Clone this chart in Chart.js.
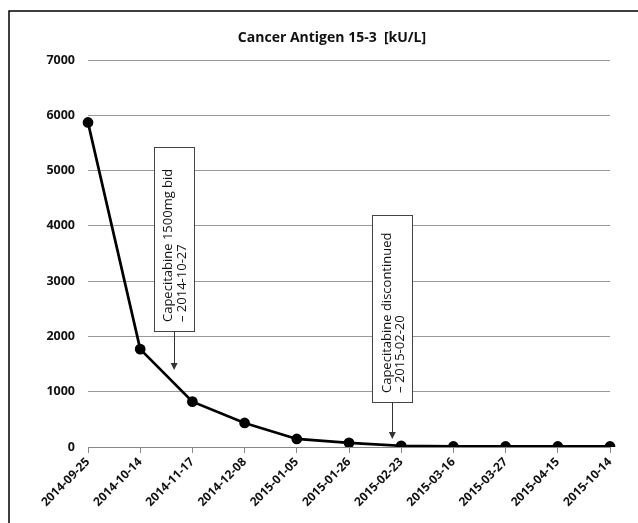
<!DOCTYPE html>
<html>
<head>
<meta charset="utf-8">
<script src="https://cdn.jsdelivr.net/npm/chart.js@4.4.1/dist/chart.umd.min.js"></script>
<style>
html,body{margin:0;padding:0;background:#fff;}
#wrap{position:relative;width:638px;height:523px;}
</style>
</head>
<body>
<div id="wrap"><canvas id="c" width="638" height="523"></canvas></div>
<script>
const titleText = 'Cancer Antigen 15-3  [kU/L]';
const dates = ['2014-09-25','2014-10-14','2014-11-17','2014-12-08','2015-01-05','2015-01-26','2015-02-23','2015-03-16','2015-03-27','2015-04-15','2015-10-14'];
const ca153 = [5870, 1770, 820, 435, 145, 75, 22, 10, 10, 10, 10];
const yTicks = [0, 1000, 2000, 3000, 4000, 5000, 6000, 7000];

// annotations (category-index position, box top/bottom and arrow tip in data units)
const noteLines = [['Capecitabine 1500mg bid', '\u2013 2014-10-27'], ['Capecitabine discontinued', '\u2013 2015-02-20']];
const noteIndex = [1.65, 5.83];
const noteBoxTop = [5425, 4195];
const noteBoxBottom = [2098, 814];
const noteArrowTip = [1392, 145];

const FONT = "'Open Sans', 'Liberation Sans', sans-serif";

const framePlugin = {
  id: 'frame',
  beforeDraw(chart) {
    const ctx = chart.ctx;
    ctx.save();
    ctx.fillStyle = '#fff';
    ctx.fillRect(0, 0, chart.width, chart.height);
    ctx.strokeStyle = '#000';
    ctx.lineWidth = 1.5;
    ctx.beginPath();
    ctx.moveTo(9, 523);
    ctx.lineTo(9, 11);
    ctx.lineTo(638, 11);
    ctx.stroke();
    // title
    ctx.fillStyle = '#111';
    ctx.font = "bold 14px " + FONT;
    ctx.textAlign = 'center';
    ctx.textBaseline = 'middle';
    ctx.fillText(titleText, 332, 38);
    ctx.restore();
  }
};

const notePlugin = {
  id: 'notes',
  beforeDatasetsDraw(chart) {
    const ctx = chart.ctx;
    const xs = chart.scales.x, ys = chart.scales.y;
    const idxPx = v => {
      const i = Math.floor(v), f = v - i;
      const a = xs.getPixelForValue(i), b = xs.getPixelForValue(Math.min(i + 1, dates.length - 1));
      return a + (b - a) * f;
    };
    ctx.save();
    for (let k = 0; k < noteLines.length; k++) {
      const cx = idxPx(noteIndex[k]);
      const top = ys.getPixelForValue(noteBoxTop[k]);
      const bot = ys.getPixelForValue(noteBoxBottom[k]);
      const tip = ys.getPixelForValue(noteArrowTip[k]);
      const w = 40;
      ctx.fillStyle = '#fff';
      ctx.fillRect(cx - w / 2, top, w, bot - top);
      ctx.strokeStyle = '#444';
      ctx.lineWidth = 1;
      ctx.strokeRect(Math.round(cx - w / 2) + 0.5, Math.round(top) + 0.5, w, Math.round(bot - top));
      // arrow
      ctx.strokeStyle = '#333';
      ctx.beginPath();
      ctx.moveTo(Math.round(cx) + 0.5, bot);
      ctx.lineTo(Math.round(cx) + 0.5, tip - 5);
      ctx.stroke();
      ctx.fillStyle = '#333';
      ctx.beginPath();
      ctx.moveTo(cx - 3.5, tip - 7);
      ctx.lineTo(cx + 3.5, tip - 7);
      ctx.lineTo(cx, tip);
      ctx.closePath();
      ctx.fill();
      // text
      ctx.save();
      ctx.translate(cx, bot - 9);
      ctx.rotate(-Math.PI / 2);
      ctx.fillStyle = '#111';
      ctx.font = "13px " + FONT;
      ctx.textAlign = 'left';
      ctx.textBaseline = 'middle';
      ctx.fillText(noteLines[k][0], 0, -5.5);
      ctx.fillText(noteLines[k][1], 0, 8);
      ctx.restore();
    }
    ctx.restore();
  }
};

new Chart(document.getElementById('c'), {
  type: 'line',
  data: {
    labels: dates,
    datasets: [{
      data: ca153,
      borderColor: '#000',
      backgroundColor: '#000',
      borderWidth: 2.75,
      pointRadius: 4,
      pointBackgroundColor: '#000',
      pointBorderColor: '#000',
      tension: 0,
      fill: false
    }]
  },
  options: {
    responsive: false,
    animation: false,
    layout: { padding: { left: 8, right: 28, top: 60, bottom: 0 } },
    plugins: {
      legend: { display: false },
      tooltip: { enabled: false },
      title: { display: false }
    },
    scales: {
      x: {
        type: 'category',
        offset: false,
        grid: { display: true, drawOnChartArea: false, drawTicks: true, tickLength: 6, color: '#888' },
        border: { display: true, color: '#888', width: 1 },
        ticks: {
          autoSkip: false,
          minRotation: 45,
          maxRotation: 45,
          padding: 2,
          color: '#111',
          font: { family: FONT, size: 12, weight: 'bold' }
        },
        afterFit(s) { s.height = 76; }
      },
      y: {
        min: 0,
        max: 7000,
        afterBuildTicks(s) { s.ticks = yTicks.map(v => ({ value: v })); },
        grid: { color: '#999', lineWidth: 1, drawTicks: false },
        border: { display: false },
        ticks: {
          padding: 13,
          color: '#111',
          font: { family: FONT, size: 12.5, weight: 'bold' },
          callback: v => String(v)
        },
        afterFit(s) { s.width = 80; }
      }
    }
  },
  plugins: [framePlugin, notePlugin]
});
</script>
</body>
</html>
